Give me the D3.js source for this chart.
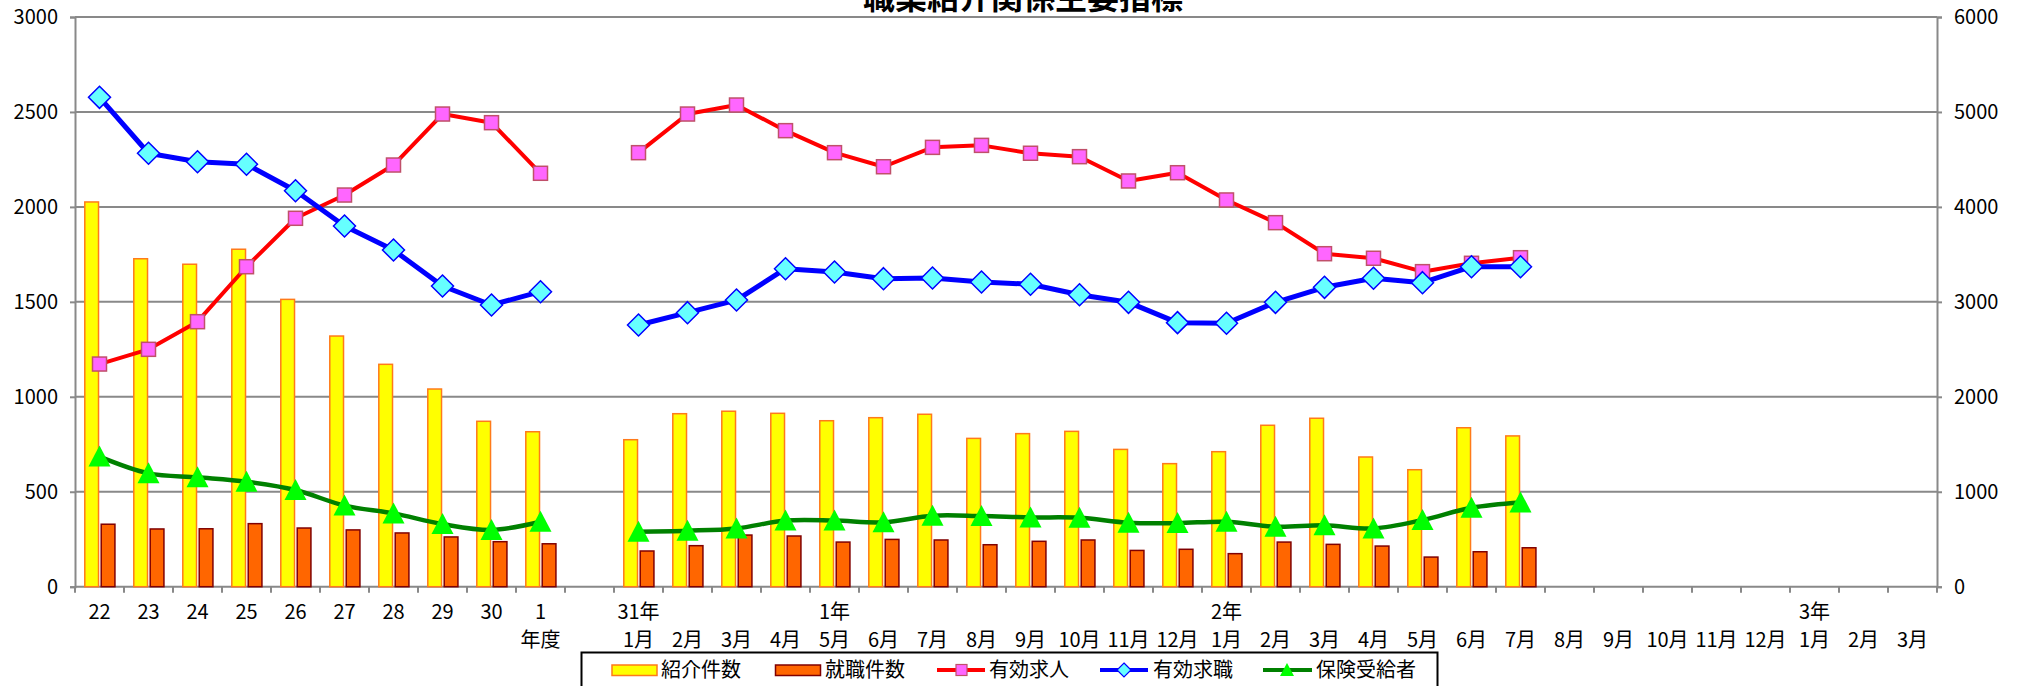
<!DOCTYPE html>
<html>
<head>
<meta charset="utf-8">
<script src="https://cdn.jsdelivr.net/npm/d3@7"></script>
<style>
  body { margin: 0; background: #fff; }
  text { font-family: "Noto Sans CJK JP", "Noto Sans", sans-serif; fill: #000; }
</style>
</head>
<body>
<div id="chart"></div>
<script>
// 職業紹介関係主要指標

// Category labels (row 1 = year / fiscal year, row 2 = month)
var row1Labels = ["22", "23", "24", "25", "26", "27", "28", "29", "30", "1", "",
  "31年", "", "", "", "1年", "", "", "", "", "", "", "",
  "2年", "", "", "", "", "", "", "", "", "", "", "",
  "3年", "", ""];
var row2Labels = ["", "", "", "", "", "", "", "", "", "年度", "",
  "1月", "2月", "3月", "4月", "5月", "6月", "7月", "8月", "9月", "10月", "11月", "12月",
  "1月", "2月", "3月", "4月", "5月", "6月", "7月", "8月", "9月", "10月", "11月", "12月",
  "1月", "2月", "3月"];

// Series values (null = no data)
var shokai = [2026, 1727, 1698, 1777, 1513, 1320, 1171, 1041, 871, 816, null,
  774, 911, 924, 913, 874, 890, 908, 781, 806, 818, 723, 648,
  711, 850, 887, 683, 616, 837, 794, null, null, null, null, null,
  null, null, null];
var shushoku = [329, 304, 305, 332, 309, 299, 283, 262, 237, 226, null,
  188, 216, 272, 267, 235, 249, 246, 221, 239, 246, 191, 197,
  174, 235, 223, 214, 156, 184, 205, null, null, null, null, null,
  null, null, null];
var kyujin = [2345, 2500, 2791, 3370, 3880, 4125, 4441, 4978, 4887, 4354, null,
  4571, 4978, 5073, 4803, 4571, 4423, 4627, 4648, 4565, 4529, 4273, 4360,
  4073, 3834, 3507, 3459, 3318, 3406, 3465, null, null, null, null, null,
  null, null, null];
var kyushoku = [5154, 4565, 4476, 4449, 4170, 3799, 3546, 3167, 2967, 3107, null,
  2756, 2886, 3019, 3349, 3314, 3244, 3251, 3209, 3185, 3075, 2995, 2781,
  2774, 2995, 3153, 3248, 3202, 3370, 3370, null, null, null, null, null,
  null, null, null];
var hoken = [685, 597, 576, 553, 509, 427, 386, 330, 299, 342, null,
  290, 295, 307, 348, 348, 339, 374, 372, 365, 363, 337, 335,
  342, 316, 323, 307, 351, 416, 444, null, null, null, null, null,
  null, null, null];

var leftTicks = [0, 500, 1000, 1500, 2000, 2500, 3000];
var rightTicks = [0, 1000, 2000, 3000, 4000, 5000, 6000];

// Set Chart Area
var svgWidth = 2020;
var svgHeight = 686;
var plot = { left: 75, right: 1937, top: 17, bottom: 586.7 };

var svg = d3.select("#chart")
  .append("svg")
  .attr("width", svgWidth)
  .attr("height", svgHeight);

// Scales
var xBand = d3.scaleBand()
  .domain(d3.range(row1Labels.length))
  .range([plot.left, plot.right]);
var bw = xBand.bandwidth();
var cx = i => xBand(i) + bw / 2;

var yLeft = d3.scaleLinear().domain([0, 3000]).range([plot.bottom, plot.top]);
var yRight = d3.scaleLinear().domain([0, 6000]).range([plot.bottom, plot.top]);

// keep the slot index with each value, drop empty ones
function withIndex(values) {
  return values.map((v, i) => ({ i: i, v: v })).filter(d => d.v != null);
}

// Gridlines
svg.append("g")
  .selectAll("line")
  .data(leftTicks.slice(1))
  .enter()
  .append("line")
  .attr("x1", plot.left)
  .attr("x2", plot.right)
  .attr("y1", d => yLeft(d))
  .attr("y2", d => yLeft(d))
  .attr("stroke", "#898989")
  .attr("stroke-width", 2);

// Axes
var leftAxis = d3.axisLeft(yLeft).tickValues(leftTicks).tickFormat(d3.format("d")).tickSize(5).tickPadding(12);
var rightAxis = d3.axisRight(yRight).tickValues(rightTicks).tickFormat(d3.format("d")).tickSize(5).tickPadding(12);

var gl = svg.append("g")
  .attr("transform", `translate(${plot.left}, 0)`)
  .call(leftAxis);
var gr = svg.append("g")
  .attr("transform", `translate(${plot.right}, 0)`)
  .call(rightAxis);

[gl, gr].forEach(function(g) {
  g.select(".domain").attr("stroke", "#898989").attr("stroke-width", 2);
  g.selectAll(".tick line").attr("stroke", "#898989").attr("stroke-width", 2);
  g.selectAll(".tick text")
    .style("font-size", "20px")
    .style("font-family", "'Noto Sans CJK JP', sans-serif")
    .attr("fill", "#000");
});

// x axis line + ticks at slot boundaries
svg.append("line")
  .attr("x1", plot.left).attr("x2", plot.right)
  .attr("y1", plot.bottom).attr("y2", plot.bottom)
  .attr("stroke", "#898989").attr("stroke-width", 2);

svg.append("g")
  .selectAll("line")
  .data(d3.range(row1Labels.length + 1))
  .enter()
  .append("line")
  .attr("x1", d => plot.left + d * bw)
  .attr("x2", d => plot.left + d * bw)
  .attr("y1", plot.bottom)
  .attr("y2", plot.bottom + 6)
  .attr("stroke", "#898989")
  .attr("stroke-width", 2);

// Category labels
svg.append("g")
  .selectAll("text")
  .data(row1Labels)
  .enter()
  .append("text")
  .attr("x", (d, i) => cx(i))
  .attr("y", 619)
  .attr("text-anchor", "middle")
  .style("font-size", "20px")
  .text(d => d);

svg.append("g")
  .selectAll("text")
  .data(row2Labels)
  .enter()
  .append("text")
  .attr("x", (d, i) => cx(i))
  .attr("y", 647)
  .attr("text-anchor", "middle")
  .style("font-size", "20px")
  .text(d => d);

// Bars
svg.append("g")
  .selectAll("rect")
  .data(withIndex(shokai))
  .enter()
  .append("rect")
  .attr("x", d => xBand(d.i) + bw * 0.2)
  .attr("y", d => yLeft(d.v))
  .attr("width", bw * 0.28)
  .attr("height", d => plot.bottom - yLeft(d.v))
  .attr("fill", "#ffff00")
  .attr("stroke", "#ff7a1a")
  .attr("stroke-width", 1.5);

svg.append("g")
  .selectAll("rect")
  .data(withIndex(shushoku))
  .enter()
  .append("rect")
  .attr("x", d => xBand(d.i) + bw * 0.535)
  .attr("y", d => yLeft(d.v))
  .attr("width", bw * 0.28)
  .attr("height", d => plot.bottom - yLeft(d.v))
  .attr("fill", "#ff6600")
  .attr("stroke", "#800000")
  .attr("stroke-width", 1.5);

// Lines
function drawLine(values, yScale, color, width, curve) {
  var line = d3.line()
    .defined(d => d != null)
    .x((d, i) => cx(i))
    .y(d => yScale(d))
    .curve(curve || d3.curveLinear);
  svg.append("path")
    .datum(values)
    .attr("d", line)
    .attr("fill", "none")
    .attr("stroke", color)
    .attr("stroke-width", width)
    .attr("stroke-linejoin", "round");
}

function pts(values, yScale) {
  return withIndex(values).map(d => ({ x: cx(d.i), y: yScale(d.v) }));
}

// 有効求人
drawLine(kyujin, yRight, "#ff0000", 4);
svg.append("g")
  .selectAll("rect")
  .data(pts(kyujin, yRight))
  .enter()
  .append("rect")
  .attr("x", d => d.x - 7)
  .attr("y", d => d.y - 7)
  .attr("width", 14)
  .attr("height", 14)
  .attr("fill", "#ff66ff")
  .attr("stroke", "#c0506a")
  .attr("stroke-width", 1.5);

// 有効求職
drawLine(kyushoku, yRight, "#0000ff", 5);
svg.append("g")
  .selectAll("path")
  .data(pts(kyushoku, yRight))
  .enter()
  .append("path")
  .attr("d", d => `M${d.x},${d.y - 11}L${d.x + 11},${d.y}L${d.x},${d.y + 11}L${d.x - 11},${d.y}Z`)
  .attr("fill", "#66ffff")
  .attr("stroke", "#0000ff")
  .attr("stroke-width", 1.5);

// 保険受給者
drawLine(hoken, yLeft, "#008000", 4.5, d3.curveCatmullRom.alpha(0));
svg.append("g")
  .selectAll("path")
  .data(pts(hoken, yLeft))
  .enter()
  .append("path")
  .attr("d", d => `M${d.x},${d.y - 11}L${d.x + 11},${d.y + 10}L${d.x - 11},${d.y + 10}Z`)
  .attr("fill", "#00ff00");

// Title (sits partly above the top edge, as in the source)
svg.append("text")
  .attr("x", 1023)
  .attr("y", 9)
  .attr("text-anchor", "middle")
  .style("font-size", "32px")
  .style("font-weight", "bold")
  .text("職業紹介関係主要指標");

// Legend
var legend = svg.append("g");
legend.append("rect")
  .attr("x", 581.5).attr("y", 652.5)
  .attr("width", 856).attr("height", 60)
  .attr("fill", "#fff")
  .attr("stroke", "#000")
  .attr("stroke-width", 2);

var ly = 670;
legend.append("rect").attr("x", 612).attr("y", ly - 5).attr("width", 45).attr("height", 10.5)
  .attr("fill", "#ffff00").attr("stroke", "#ff7a1a").attr("stroke-width", 1.5);
legend.append("rect").attr("x", 775.5).attr("y", ly - 5).attr("width", 45).attr("height", 10.5)
  .attr("fill", "#ff6600").attr("stroke", "#800000").attr("stroke-width", 1.5);

legend.append("line").attr("x1", 937).attr("x2", 985).attr("y1", ly).attr("y2", ly)
  .attr("stroke", "#ff0000").attr("stroke-width", 4);
legend.append("rect").attr("x", 956).attr("y", ly - 5.5).attr("width", 11).attr("height", 11)
  .attr("fill", "#ff66ff").attr("stroke", "#c0506a").attr("stroke-width", 1.2);

legend.append("line").attr("x1", 1100).attr("x2", 1148).attr("y1", ly).attr("y2", ly)
  .attr("stroke", "#0000ff").attr("stroke-width", 4);
legend.append("path").attr("d", `M1124,${ly - 7}L1131,${ly}L1124,${ly + 7}L1117,${ly}Z`)
  .attr("fill", "#66ffff").attr("stroke", "#0000ff").attr("stroke-width", 1.2);

legend.append("line").attr("x1", 1263).attr("x2", 1312).attr("y1", ly).attr("y2", ly)
  .attr("stroke", "#008000").attr("stroke-width", 4);
legend.append("path").attr("d", `M1287,${ly - 7}L1294,${ly + 6}L1280,${ly + 6}Z`)
  .attr("fill", "#00ff00");

var legendText = [
  { x: 661, t: "紹介件数" },
  { x: 825, t: "就職件数" },
  { x: 989, t: "有効求人" },
  { x: 1153, t: "有効求職" },
  { x: 1316, t: "保険受給者" }
];
legend.selectAll("text.lt")
  .data(legendText)
  .enter()
  .append("text")
  .attr("class", "lt")
  .attr("x", d => d.x)
  .attr("y", ly + 7)
  .style("font-size", "20px")
  .text(d => d.t);
</script>
</body>
</html>
